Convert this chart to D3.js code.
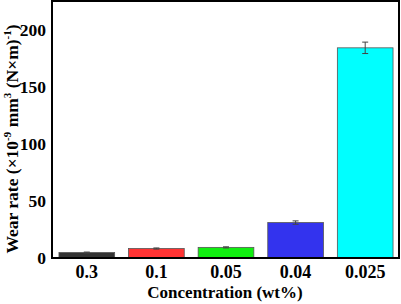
<!DOCTYPE html>
<html>
<head>
<meta charset="utf-8">
<script src="https://cdn.jsdelivr.net/npm/d3@7"></script>
<style>
  body { margin: 0; background: #fff; }
  text { font-family: "Liberation Serif", "Times New Roman", serif; font-weight: bold; }
</style>
</head>
<body>
<svg id="chart" width="401" height="304"></svg>
<script>
// data
const concentrations = ['0.3', '0.1', '0.05', '0.04', '0.025'];
const wearRates = [4.8, 8.3, 9.3, 31, 184];
const wearErrors = [0.4, 0.5, 0.5, 1.5, 5];
const barColors = ['#333333', '#ff3333', '#11ee11', '#3333ee', '#00ffff'];
const yTicks = [0, 50, 100, 150, 200];

const svg = d3.select('#chart');
const margin = {top: 1, right: 1, bottom: 46, left: 52};
const width = 401 - margin.left - margin.right;
const height = 304 - margin.top - margin.bottom;

const x = d3.scaleBand()
  .domain(concentrations)
  .range([margin.left, margin.left + width])
  .paddingInner(0.2)
  .paddingOuter(0.1);

const y = d3.scaleLinear()
  .domain([0, 225])
  .range([margin.top + height, margin.top]);

// bars
svg.append('g').selectAll('rect')
  .data(concentrations)
  .join('rect')
  .attr('x', d => x(d))
  .attr('y', (d, i) => y(wearRates[i]))
  .attr('width', x.bandwidth())
  .attr('height', (d, i) => y(0) - y(wearRates[i]))
  .attr('fill', (d, i) => barColors[i])
  .attr('stroke', '#555')
  .attr('stroke-width', 0.8);

// error bars
const err = svg.append('g').attr('stroke', '#444').attr('stroke-width', 1);
concentrations.forEach((c, i) => {
  const cx = x(c) + x.bandwidth() / 2;
  const y1 = y(wearRates[i] + wearErrors[i]);
  const y2 = y(wearRates[i] - wearErrors[i]);
  err.append('line').attr('x1', cx).attr('x2', cx).attr('y1', y1).attr('y2', y2);
  err.append('line').attr('x1', cx - 3).attr('x2', cx + 3).attr('y1', y1).attr('y2', y1);
  err.append('line').attr('x1', cx - 3).attr('x2', cx + 3).attr('y1', y2).attr('y2', y2);
});

// axes
const xAxis = svg.append('g')
  .attr('transform', `translate(0,${margin.top + height})`)
  .call(d3.axisBottom(x).tickSize(0).tickPadding(7));
xAxis.select('.domain').remove();
xAxis.selectAll('text').attr('font-size', 18).attr('fill', '#000');

const yAxis = svg.append('g')
  .attr('transform', `translate(${margin.left},0)`)
  .call(d3.axisLeft(y).tickValues(yTicks).tickSize(0).tickPadding(6));
yAxis.select('.domain').remove();
yAxis.selectAll('text').attr('font-size', 17.5).attr('fill', '#000');

// frame
svg.append('rect')
  .attr('x', margin.left)
  .attr('y', margin.top)
  .attr('width', width - 1)
  .attr('height', height)
  .attr('fill', 'none')
  .attr('stroke', '#000')
  .attr('stroke-width', 2);

// axis titles
svg.append('text')
  .attr('x', 225)
  .attr('y', 298)
  .attr('text-anchor', 'middle')
  .attr('font-size', 17)
  .text('Concentration (wt%)');

const yTitle = svg.append('text')
  .attr('transform', `translate(18,139) rotate(-90)`)
  .attr('text-anchor', 'middle')
  .attr('font-size', 17.5);
yTitle.append('tspan').text('Wear rate (×10');
yTitle.append('tspan').attr('dy', -7).attr('font-size', 11).text('-9');
yTitle.append('tspan').attr('dy', 7).text(' mm');
yTitle.append('tspan').attr('dy', -7).attr('font-size', 11).text('3');
yTitle.append('tspan').attr('dy', 7).text(' (N×m)');
yTitle.append('tspan').attr('dy', -7).attr('font-size', 11).text('-1');
yTitle.append('tspan').attr('dy', 7).text(')');
</script>
</body>
</html>
